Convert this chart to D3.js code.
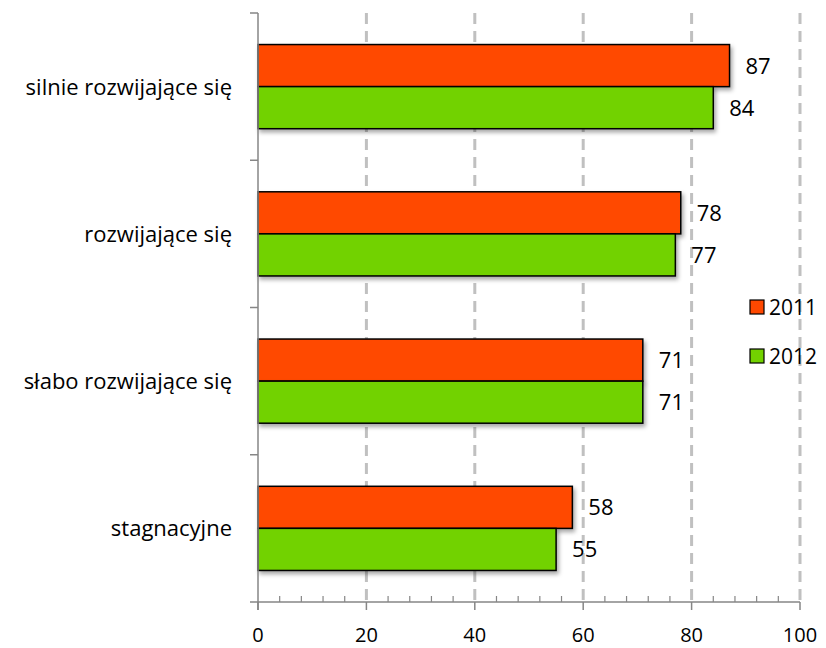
<!DOCTYPE html>
<html lang="pl">
<head>
<meta charset="UTF-8">
<title>Wykres</title>
<script src="https://d3js.org/d3.v7.min.js"></script>
<style>
  body { margin: 0; background: #fff; }
  text { font-family: "Open Sans", sans-serif; fill: #000; }
</style>
</head>
<body>
<svg id="chart" width="826" height="648"></svg>
<script>
var categories = ['silnie rozwijające się', 'rozwijające się', 'słabo rozwijające się', 'stagnacyjne'];
var series = ['2011', '2012'];
var values2011 = [87, 78, 71, 58];
var values2012 = [84, 77, 71, 55];
var xTicks = [0, 20, 40, 60, 80, 100];
var colors = {'2011': '#ff4800', '2012': '#72d200'};

var width = 826, height = 648;
var margin = {left: 258, right: 26, top: 13, bottom: 46};

var svg = d3.select('#chart');

var defs = svg.append('defs');
var f = defs.append('filter').attr('id', 'shadow')
    .attr('x', '-5%').attr('y', '-10%').attr('width', '115%').attr('height', '130%');
f.append('feDropShadow').attr('dx', 2).attr('dy', 3).attr('stdDeviation', 2)
    .attr('flood-color', '#000').attr('flood-opacity', 0.35);

var x = d3.scaleLinear().domain([0, 100]).range([margin.left, width - margin.right]);
var y = d3.scaleBand().domain(categories).range([margin.top, height - margin.bottom]);
var inner = d3.scaleBand().domain(series).range([0, y.bandwidth()]).paddingInner(0).paddingOuter(0.75);

var rows = categories.map(function (c, i) {
    return {cat: c, vals: [{s: '2011', v: values2011[i]}, {s: '2012', v: values2012[i]}]};
});

// dashed gridlines
svg.append('g').selectAll('line')
    .data(xTicks.filter(function (d) { return d > 0; }))
    .enter().append('line')
    .attr('x1', function (d) { return x(d); })
    .attr('x2', function (d) { return x(d); })
    .attr('y1', margin.top)
    .attr('y2', height - margin.bottom)
    .attr('stroke', '#c0c0c0')
    .attr('stroke-width', 3)
    .attr('stroke-dasharray', '11,7');

// bars
var groups = svg.append('g').selectAll('g')
    .data(rows).enter().append('g')
    .attr('transform', function (d) { return 'translate(0,' + y(d.cat) + ')'; });

groups.selectAll('rect')
    .data(function (d) { return d.vals; })
    .enter().append('rect')
    .attr('x', x(0))
    .attr('y', function (d) { return inner(d.s); })
    .attr('width', function (d) { return x(d.v) - x(0); })
    .attr('height', inner.bandwidth())
    .attr('fill', function (d) { return colors[d.s]; })
    .attr('stroke', '#000')
    .attr('stroke-width', 1.5)
    .attr('filter', 'url(#shadow)');

groups.selectAll('text.val')
    .data(function (d) { return d.vals; })
    .enter().append('text')
    .attr('class', 'val')
    .attr('x', function (d) { return x(d.v) + 16; })
    .attr('y', function (d) { return inner(d.s) + inner.bandwidth() / 2; })
    .attr('dy', '0.36em')
    .attr('font-size', 22)
    .text(function (d) { return d.v; });

// x axis
var xAxisY = height - margin.bottom;
var xg = svg.append('g').attr('transform', 'translate(0,' + xAxisY + ')');
xg.append('line').attr('x1', x(0) - 8).attr('x2', x(100)).attr('stroke', '#868686').attr('stroke-width', 1.5);
xg.selectAll('line.minor')
    .data(d3.range(0, 101, 4).filter(function (d) { return d % 20 !== 0; }))
    .enter().append('line').attr('class', 'minor')
    .attr('x1', function (d) { return x(d); }).attr('x2', function (d) { return x(d); })
    .attr('y1', -6).attr('y2', 0)
    .attr('stroke', '#868686').attr('stroke-width', 1.2);
xg.selectAll('line.major')
    .data(xTicks).enter().append('line').attr('class', 'major')
    .attr('x1', function (d) { return x(d); }).attr('x2', function (d) { return x(d); })
    .attr('y1', 0).attr('y2', 8)
    .attr('stroke', '#868686').attr('stroke-width', 1.5);
xg.selectAll('text')
    .data(xTicks).enter().append('text')
    .attr('x', function (d) { return x(d); })
    .attr('y', 40)
    .attr('text-anchor', 'middle')
    .attr('font-size', 20)
    .text(function (d) { return d; });

// y axis
var yg = svg.append('g');
yg.append('line').attr('x1', x(0)).attr('x2', x(0))
    .attr('y1', margin.top).attr('y2', xAxisY + 8)
    .attr('stroke', '#868686').attr('stroke-width', 1.5);
var bounds = categories.map(function (c) { return y(c); });
yg.selectAll('line.tick')
    .data(bounds).enter().append('line').attr('class', 'tick')
    .attr('x1', x(0) - 8).attr('x2', x(0))
    .attr('y1', function (d) { return d; }).attr('y2', function (d) { return d; })
    .attr('stroke', '#868686').attr('stroke-width', 1.5);
yg.selectAll('text')
    .data(categories).enter().append('text')
    .attr('x', x(0) - 26)
    .attr('y', function (d) { return y(d) + y.bandwidth() / 2; })
    .attr('dy', '0.36em')
    .attr('text-anchor', 'end')
    .attr('font-size', 22)
    .text(function (d) { return d; });

// legend
var legend = svg.append('g').selectAll('g')
    .data(series).enter().append('g')
    .attr('transform', function (d, i) { return 'translate(750,' + (300 + i * 49) + ')'; });
legend.append('rect')
    .attr('width', 14).attr('height', 14)
    .attr('fill', function (d) { return colors[d]; })
    .attr('stroke', '#000').attr('stroke-width', 1.2);
legend.append('text')
    .attr('x', 19).attr('y', 7).attr('dy', '0.36em')
    .attr('font-size', 21)
    .text(function (d) { return d; });
</script>
</body>
</html>
